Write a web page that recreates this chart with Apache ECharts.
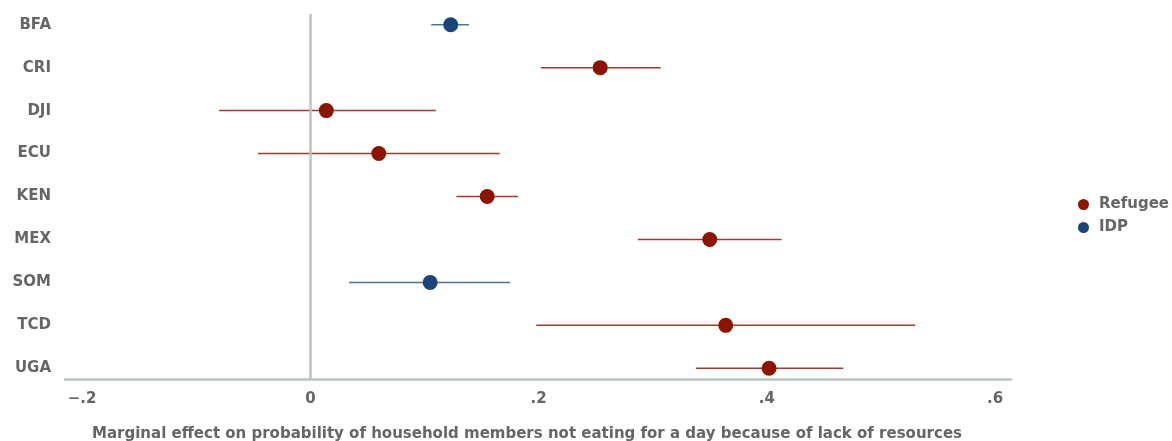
<!DOCTYPE html>
<html>
<head>
<meta charset="utf-8">
<script src="https://cdn.jsdelivr.net/npm/echarts@6/dist/echarts.min.js"></script>
<style>
  html, body { margin: 0; padding: 0; background: #fff; }
  #chart { width: 1172px; height: 441px; }
</style>
</head>
<body>
<div id="chart"></div>
<script>
// Countries, top to bottom
const countries = ['BFA', 'CRI', 'DJI', 'ECU', 'KEN', 'MEX', 'SOM', 'TCD', 'UGA'];
// Population group for each country
const groups = ['IDP', 'Refugee', 'Refugee', 'Refugee', 'Refugee', 'Refugee', 'IDP', 'Refugee', 'Refugee'];
// Point estimates and confidence interval bounds
const estimates = [0.123, 0.254, 0.014, 0.060, 0.155, 0.350, 0.105, 0.364, 0.402];
const lower = [0.106, 0.202, -0.080, -0.046, 0.128, 0.287, 0.034, 0.198, 0.338];
const upper = [0.139, 0.307, 0.110, 0.166, 0.182, 0.413, 0.175, 0.530, 0.467];
// X axis tick values
const xTicks = [-0.2, 0, 0.2, 0.4, 0.6];

const colors = { Refugee: '#8B1500', IDP: '#1B4478' };
const barColors = { Refugee: '#A33A30', IDP: '#52709A' };
const textColor = '#666666';
const font = '"DejaVu Sans", sans-serif';

function fmtTick(v) {
  if (Math.abs(v) < 1e-9) return '0';
  const s = Math.abs(v).toFixed(1).replace(/^0/, '');
  return (v < 0 ? '\u2212' : '') + s;
}

function groupRows(g) {
  const pts = [], bars = [];
  countries.forEach((c, i) => {
    if (groups[i] !== g) return;
    pts.push([estimates[i], i]);
    bars.push([lower[i], upper[i], i]);
  });
  return { pts, bars };
}

const series = [];
['Refugee', 'IDP'].forEach(g => {
  const d = groupRows(g);
  series.push({
    type: 'custom',
    name: g + ' CI',
    silent: true,
    z: 2,
    data: d.bars,
    renderItem: (params, api) => {
      const a = api.coord([api.value(0), api.value(2)]);
      const b = api.coord([api.value(1), api.value(2)]);
      return {
        type: 'line',
        shape: { x1: a[0], y1: a[1], x2: b[0], y2: b[1] },
        style: { stroke: barColors[g], lineWidth: 1.5 }
      };
    }
  });
  series.push({
    type: 'scatter',
    name: g,
    z: 3,
    symbol: 'circle',
    symbolSize: 15,
    itemStyle: { color: colors[g], opacity: 1 },
    data: d.pts
  });
});

// Reference line at zero
series.push({
  type: 'line',
  data: [],
  silent: true,
  markLine: {
    silent: true,
    symbol: 'none',
    label: { show: false },
    lineStyle: { color: '#BCC3C3', width: 2.5, type: 'solid' },
    data: [{ xAxis: 0 }]
  }
});

const chart = echarts.init(document.getElementById('chart'));
chart.setOption({
  animation: false,
  backgroundColor: '#fff',
  grid: { left: 65, right: 161, top: 14, bottom: 62, containLabel: false, outerBoundsMode: 'none' },
  legend: {
    data: ['Refugee', 'IDP'],
    orient: 'vertical',
    left: 1073,
    top: 192,
    itemWidth: 11,
    itemHeight: 11,
    itemGap: 8,
    icon: 'circle',
    textStyle: { color: textColor, fontSize: 15, fontWeight: 'bold', fontFamily: font, padding: [0, 0, 0, 5] }
  },
  xAxis: {
    type: 'value',
    min: -0.215,
    max: 0.614,
    axisLine: { show: true, onZero: false, lineStyle: { color: '#BCC3C3', width: 2.5 } },
    axisTick: { show: false },
    splitLine: { show: false },
    axisLabel: {
      customValues: xTicks,
      formatter: fmtTick,
      color: textColor,
      fontSize: 15,
      fontWeight: 'bold',
      fontFamily: font,
      margin: 13
    },
    name: 'Marginal effect on probability of household members not eating for a day because of lack of resources',
    nameLocation: 'middle',
    nameGap: 48,
    nameTextStyle: { color: textColor, fontSize: 15, fontWeight: 'bold', fontFamily: font, padding: [0, 22, 0, 0] }
  },
  yAxis: {
    type: 'value',
    min: -0.25,
    max: 8.25,
    inverse: true,
    axisLine: { show: false },
    axisTick: { show: false },
    splitLine: { show: false },
    axisLabel: {
      customValues: countries.map((c, i) => i),
      formatter: v => countries[Math.round(v)] || '',
      color: textColor,
      fontSize: 15,
      fontWeight: 'bold',
      fontFamily: font,
      margin: 14
    }
  },
  series: series
});
</script>
</body>
</html>
